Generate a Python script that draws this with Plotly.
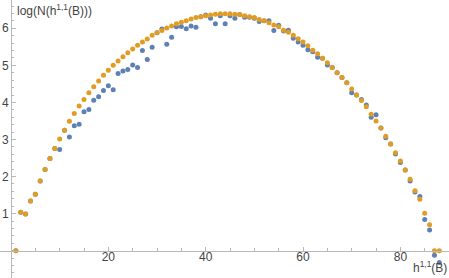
import plotly.graph_objects as go

x_vals = list(range(1, 89))

orange_y = [0, 1.04, 0.99, 1.34, 1.52, 1.88, 2.19, 2.49, 2.76, 3.01,
            3.25, 3.49, 3.70, 3.90, 4.08, 4.26, 4.42, 4.58, 4.73, 4.87,
            5.00, 5.12, 5.23, 5.34, 5.44, 5.54, 5.63, 5.71, 5.81, 5.88,
            5.94, 6.01, 6.06, 6.12, 6.16, 6.20, 6.25, 6.29, 6.31, 6.34,
            6.36, 6.38, 6.39, 6.39, 6.39, 6.38, 6.37, 6.34, 6.31, 6.29,
            6.24, 6.20, 6.15, 6.09, 6.04, 5.95, 5.89, 5.81, 5.72, 5.63,
            5.53, 5.41, 5.31, 5.19, 5.07, 4.94, 4.80, 4.67, 4.53, 4.36,
            4.20, 4.05, 3.88, 3.68, 3.50, 3.31, 3.09, 2.88, 2.64, 2.42,
            2.18, 1.93, 1.62, 1.39, 1.01, 0.70, 0, 0]

blue_y = [0, 1.04, 0.99, 1.34, 1.52, 1.88, 2.19, 2.49, 2.76, 2.73,
          3.25, 3.07, 3.37, 3.41, 3.75, 3.81, 4.06, 4.15, 4.32, 4.45,
          4.34, 4.78, 4.85, 4.89, 5.01, 4.94, 5.40, 5.16, 5.49, 5.88,
          5.98, 5.57, 5.76, 6.04, 6.05, 5.99, 6.06, 6.03, 6.31, 6.36,
          6.27, 6.12, 6.34, 6.12, 6.34, 6.27, 6.37, 6.30, 6.30, 6.27,
          6.18, 6.20, 6.20, 5.94, 6.08, 5.93, 5.95, 5.73, 5.63, 5.54,
          5.42, 5.37, 5.22, 5.19, 5.01, 4.94, 4.80, 4.67, 4.53, 4.26,
          4.20, 4.08, 3.93, 3.60, 3.67, 3.31, 3.05, 2.88, 2.61, 2.38,
          2.18, 1.88, 1.58, 1.46, 0.84, 0.56, -0.12, -0.32]

x_ticks = [20, 40, 60, 80]
y_ticks = [1, 2, 3, 4, 5, 6]

x_range = [-2.26, 89.99]
y_range = [-0.737, 6.763]

BLUE = "#5E81B5"
ORANGE = "#E19C24"
AXIS = "#B8B8B8"
TEXT = "#444444"

fig = go.Figure()
fig.add_trace(go.Scatter(x=x_vals, y=blue_y, mode="markers",
                         marker=dict(color=BLUE, size=5, line=dict(width=0))))
fig.add_trace(go.Scatter(x=x_vals, y=orange_y, mode="markers",
                         marker=dict(color=ORANGE, size=5, line=dict(width=0))))

xpos = (0 - y_range[0]) / (y_range[1] - y_range[0])
ypos = (0 - x_range[0]) / (x_range[1] - x_range[0])

fig.update_layout(
    width=449, height=278,
    margin=dict(l=0, r=0, t=0, b=0),
    paper_bgcolor="white", plot_bgcolor="white",
    showlegend=False,
    font=dict(family="Liberation Sans, Arial, sans-serif", size=12, color=TEXT),
    xaxis=dict(range=x_range, anchor="free", position=xpos,
               showgrid=False, zeroline=False, showline=True,
               linecolor=AXIS, linewidth=1,
               tickvals=x_ticks, ticks="inside", ticklen=4, tickcolor=AXIS,
               ticklabelstandoff=-5,
               tickfont=dict(size=12, color=TEXT),
               minor=dict(dtick=5, tick0=0, ticks="inside", ticklen=2.5,
                          tickcolor=AXIS, showgrid=False)),
    yaxis=dict(range=y_range, anchor="free", position=ypos,
               showgrid=False, zeroline=False, showline=True,
               linecolor=AXIS, linewidth=1,
               tickvals=y_ticks, ticks="inside", ticklen=4, tickcolor=AXIS,
               tickfont=dict(size=12, color=TEXT),
               minor=dict(dtick=0.2, tick0=0, ticks="inside", ticklen=2.5,
                          tickcolor=AXIS, showgrid=False)),
    annotations=[
        dict(text="log(N(h<sup>1,1</sup>(B)))", xref="paper", yref="paper",
             x=15 / 449, y=1 - 10 / 278, xanchor="left", yanchor="middle",
             showarrow=False, font=dict(size=12, color=TEXT)),
        dict(text="h<sup>1,1</sup>(B)", xref="paper", yref="paper",
             x=411 / 449, y=1 - 267 / 278, xanchor="left", yanchor="middle",
             showarrow=False, font=dict(size=12, color=TEXT)),
    ],
)

fig.write_html("out.html",
               config={"displayModeBar": False},
               post_script="document.body.style.margin='0';"
                           "document.body.style.overflow='hidden';")
